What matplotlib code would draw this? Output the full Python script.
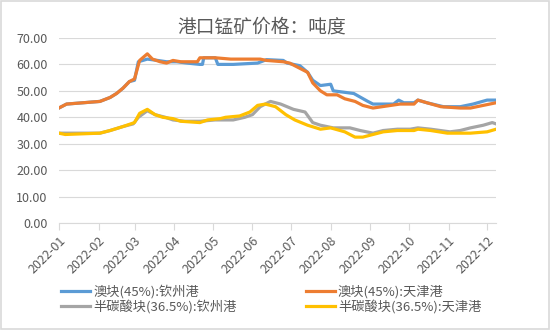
import matplotlib
matplotlib.use("Agg")
import matplotlib.pyplot as plt
import matplotlib.dates as mdates
import pandas as pd
from matplotlib.patches import Rectangle

plt.rcParams['font.family'] = ['Noto Sans CJK SC', 'DejaVu Sans']

# 澳块(45%):钦州港
au_qz_dates = ['2022-01-01', '2022-01-07', '2022-02-02', '2022-02-10', '2022-02-15', '2022-02-20',
               '2022-02-25', '2022-03-01', '2022-03-04', '2022-03-11', '2022-03-19', '2022-03-26',
               '2022-04-03', '2022-04-11', '2022-04-21', '2022-04-23', '2022-04-24', '2022-05-03',
               '2022-05-05', '2022-05-17', '2022-06-05', '2022-06-12', '2022-06-25', '2022-06-28',
               '2022-07-08', '2022-07-14', '2022-07-18', '2022-07-24', '2022-08-01', '2022-08-03',
               '2022-08-19', '2022-08-30', '2022-09-03', '2022-09-19', '2022-09-23', '2022-09-27',
               '2022-10-05', '2022-10-08', '2022-10-15', '2022-10-28', '2022-11-10', '2022-11-20',
               '2022-12-01', '2022-12-08']
au_qz_vals = [43.5, 45, 46, 47.5, 49, 51, 53.5, 54, 61, 62, 61.5, 61,
              61, 60.5, 60, 60, 62.5, 62.5, 60, 60, 60.5, 61.8, 61.5, 60.5,
              59.5, 57, 54, 52, 52.5, 50, 49, 46, 45, 45, 46.5, 45.5,
              45.5, 46.5, 45.5, 44, 44, 45, 46.5, 46.5]

# 澳块(45%):天津港
au_tj_dates = ['2022-01-01', '2022-01-07', '2022-02-02', '2022-02-10', '2022-02-15', '2022-02-20',
               '2022-02-25', '2022-03-01', '2022-03-05', '2022-03-11', '2022-03-15', '2022-03-21',
               '2022-03-26', '2022-03-31', '2022-04-06', '2022-04-19', '2022-04-21', '2022-05-03',
               '2022-05-15', '2022-06-07', '2022-06-12', '2022-06-25', '2022-06-30', '2022-07-08',
               '2022-07-14', '2022-07-18', '2022-07-24', '2022-07-29', '2022-08-06', '2022-08-12',
               '2022-08-20', '2022-08-26', '2022-09-03', '2022-09-17', '2022-09-24', '2022-10-05',
               '2022-10-08', '2022-10-15', '2022-10-26', '2022-11-10', '2022-11-18', '2022-11-28',
               '2022-12-08']
au_tj_vals = [43.5, 45, 46, 47.5, 49, 51, 53.5, 54.5, 61.5, 64, 62, 61,
              60.5, 61.5, 61, 61, 62.5, 62.5, 62, 62, 61.5, 61, 60.5, 58.5,
              57, 53, 50, 48.5, 48.5, 47, 46, 44.5, 43.5, 44.5, 45, 45,
              46.5, 45.5, 44, 43.5, 43.5, 44.5, 45.5]

# 半碳酸块(36.5%):钦州港
sc_qz_dates = ['2022-01-01', '2022-02-02', '2022-02-10', '2022-02-20', '2022-02-28', '2022-03-04',
               '2022-03-11', '2022-03-17', '2022-03-25', '2022-03-31', '2022-04-09', '2022-04-21',
               '2022-05-03', '2022-05-17', '2022-05-26', '2022-06-01', '2022-06-07', '2022-06-15',
               '2022-06-23', '2022-07-03', '2022-07-12', '2022-07-18', '2022-07-24', '2022-08-03',
               '2022-08-16', '2022-08-24', '2022-09-03', '2022-09-11', '2022-09-22', '2022-10-02',
               '2022-10-08', '2022-10-18', '2022-11-02', '2022-11-10', '2022-11-18', '2022-11-28',
               '2022-12-05', '2022-12-08']
sc_qz_vals = [34, 34, 35, 36.5, 37.5, 40, 42.5, 41, 40, 39, 38.5, 38.5,
              39, 39, 40, 41, 44, 46, 45, 43, 42, 38, 37, 36,
              36, 35, 34, 35, 35.5, 35.5, 36, 35.5, 34.5, 35, 36, 37,
              38, 37.5]

# 半碳酸块(36.5%):天津港
sc_tj_dates = ['2022-01-01', '2022-01-06', '2022-02-02', '2022-02-10', '2022-02-20', '2022-03-01',
               '2022-03-05', '2022-03-11', '2022-03-17', '2022-03-23', '2022-03-31', '2022-04-06',
               '2022-04-21', '2022-04-27', '2022-05-07', '2022-05-11', '2022-05-22', '2022-05-30',
               '2022-06-05', '2022-06-11', '2022-06-19', '2022-06-27', '2022-07-04', '2022-07-14',
               '2022-07-24', '2022-08-01', '2022-08-12', '2022-08-20', '2022-08-26', '2022-09-03',
               '2022-09-11', '2022-09-22', '2022-10-05', '2022-10-08', '2022-10-18', '2022-10-31',
               '2022-11-18', '2022-12-01', '2022-12-08']
sc_tj_vals = [34, 33.5, 34, 35, 36.5, 38, 41.5, 43, 41, 40, 39.5, 38.5,
              38, 39, 39.5, 40, 40.5, 42, 44.5, 45, 44, 41, 39, 37,
              35.5, 36, 34.5, 32.5, 32.5, 33.5, 34.5, 35, 35, 35.5, 35, 34,
              34, 34.5, 35.5]

series_names = ['澳块(45%):钦州港', '澳块(45%):天津港',
                '半碳酸块(36.5%):钦州港', '半碳酸块(36.5%):天津港']
series_dates = [au_qz_dates, au_tj_dates, sc_qz_dates, sc_tj_dates]
series_vals = [au_qz_vals, au_tj_vals, sc_qz_vals, sc_tj_vals]
colors = ['#5B9BD5', '#ED7D31', '#A5A5A5', '#FFC000']

fig = plt.figure(figsize=(5.5, 3.3), dpi=100)
ax = fig.add_axes([0.107, 0.324, 0.795, 0.561])

lines = []
for name, d, v, c in zip(series_names, series_dates, series_vals, colors):
    ln, = ax.plot(pd.to_datetime(d), v, color=c, lw=2.3, label=name,
                  solid_joinstyle='round')
    lines.append(ln)

ax.set_ylim(0, 70)
ax.set_yticks(range(0, 71, 10))
ax.yaxis.set_major_formatter(plt.FuncFormatter(lambda v, p: f'{v:.2f}'))
ax.set_xlim(pd.Timestamp('2022-01-01'), pd.Timestamp('2022-12-08'))
ax.xaxis.set_major_locator(mdates.MonthLocator())
ax.xaxis.set_major_formatter(mdates.DateFormatter('%Y-%m'))
ax.grid(axis='y', color='#D9D9D9', lw=0.8)
ax.set_axisbelow(True)
for s in ['top', 'right', 'left']:
    ax.spines[s].set_visible(False)
ax.spines['bottom'].set_color('#D9D9D9')
ax.tick_params(axis='y', length=0, labelsize=9, labelcolor='#595959', pad=8)
ax.tick_params(axis='x', length=5, color='#D9D9D9', labelsize=9,
               labelcolor='#595959', pad=3)
for lab in ax.get_xticklabels():
    lab.set_rotation(45)
    lab.set_ha('right')
    lab.set_rotation_mode('anchor')

fig.text(0.475, 0.918, '港口锰矿价格：吨度', ha='center', va='center',
         fontsize=13.5, color='#595959')

handles = [lines[0], lines[2], lines[1], lines[3]]
fig.legend(handles, [h.get_label() for h in handles], ncol=2, frameon=False,
           loc='lower left', bbox_to_anchor=(0.09, 0.015), fontsize=9.5,
           labelcolor='#595959', handlelength=2.2, handletextpad=0.2,
           columnspacing=5.3, labelspacing=0.05)

fig.patches.append(Rectangle((0.002, 0.003), 0.996, 0.994, transform=fig.transFigure,
                             fill=False, edgecolor='#D9D9D9', lw=1.2))

fig.savefig('out.png', dpi=100)
